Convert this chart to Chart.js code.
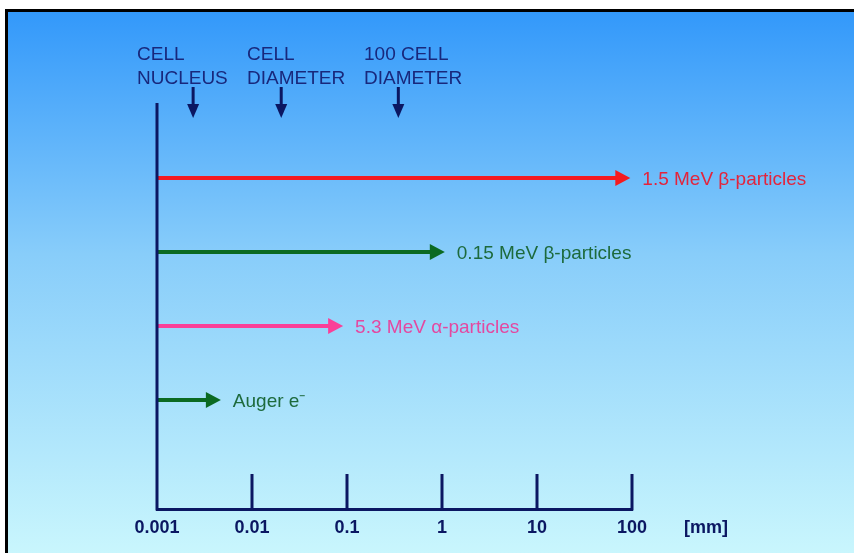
<!DOCTYPE html>
<html><head><meta charset="utf-8">
<script src="https://cdn.jsdelivr.net/npm/chart.js@4"></script>
<style>html,body{margin:0;padding:0;background:#fff;overflow:hidden}</style>
</head><body>
<canvas id="c" width="854" height="553"></canvas>
<script>
const tickValues = [0.001, 0.01, 0.1, 1, 10, 100];
const tickLabels = ['0.001', '0.01', '0.1', '1', '10', '100'];
const unitLabel = '[mm]';
const particleLabels = ['1.5 MeV β-particles', '0.15 MeV β-particles', '5.3 MeV α-particles', 'Auger e⁻'];
const particleRanges = [96, 1.07, 0.091, 0.0047];
const particleRows = [4, 3, 2, 1];
const particleColors = ['#f51a1f', '#0b6a22', '#fa3f98', '#0b6a22'];
const particleTextColors = ['#e3243c', '#1d6a3c', '#e448a0', '#1d6a3c'];
const markerLabels = [['CELL', 'NUCLEUS'], ['CELL', 'DIAMETER'], ['100 CELL', 'DIAMETER']];
const markerValues = [0.0024, 0.0203, 0.347];

const NAVY = '#0b1762';
const TEXTNAVY = '#18287c';
const FONT = '"Liberation Sans", Arial, sans-serif';
const headerTextX = [137, 247, 364];

const datasets = particleLabels.map((lab, i) => ({
  label: lab,
  data: [{x: tickValues[0], y: particleRows[i]}, {x: particleRanges[i], y: particleRows[i]}],
  borderColor: particleColors[i],
  backgroundColor: particleColors[i],
  borderWidth: 4,
  pointRadius: 0,
  borderCapStyle: 'butt',
  clip: false,
  showLine: true
}));

const HEAD_LEN = 15, HEAD_HALF = 8;

const deco = {
  id: 'deco',
  beforeDraw(chart) {
    const ctx = chart.ctx, W = chart.width, H = chart.height;
    ctx.save();
    ctx.fillStyle = '#ffffff';
    ctx.fillRect(0, 0, W, H);
    const g = ctx.createLinearGradient(0, 10, 0, H);
    g.addColorStop(0, '#3298fa');
    g.addColorStop(0.45, '#88cdfa');
    g.addColorStop(1, '#c9f6fd');
    ctx.fillStyle = g;
    ctx.fillRect(6, 10, W - 6, H - 10);
    ctx.fillStyle = '#000';
    ctx.fillRect(5, 9, W - 5, 3);
    ctx.fillRect(5, 9, 3, H - 9);
    ctx.restore();
  },
  beforeDatasetDraw(chart, args) {
    const meta = chart.getDatasetMeta(args.index);
    const tip = meta.data[meta.data.length - 1];
    const ctx = chart.ctx;
    ctx.save();
    ctx.beginPath();
    ctx.rect(0, 0, tip.x - HEAD_LEN + 2, chart.height);
    ctx.clip();
  },
  afterDatasetDraw(chart, args) {
    chart.ctx.restore();
  },
  afterDraw(chart) {
    const ctx = chart.ctx;
    const xs = chart.scales.x, ca = chart.chartArea;
    ctx.save();
    ctx.strokeStyle = NAVY;
    ctx.lineWidth = 3;
    const x0 = xs.getPixelForValue(tickValues[0]);
    ctx.beginPath();
    ctx.moveTo(x0, ca.top);
    ctx.lineTo(x0, ca.bottom + 1.5);
    ctx.stroke();
    tickValues.slice(1).forEach(v => {
      const px = xs.getPixelForValue(v);
      ctx.beginPath();
      ctx.moveTo(px, ca.bottom - 35);
      ctx.lineTo(px, ca.bottom + 1.5);
      ctx.stroke();
    });
    chart.data.datasets.forEach((ds, i) => {
      const meta = chart.getDatasetMeta(i);
      const tip = meta.data[meta.data.length - 1];
      ctx.fillStyle = particleColors[i];
      ctx.beginPath();
      ctx.moveTo(tip.x, tip.y);
      ctx.lineTo(tip.x - HEAD_LEN, tip.y - HEAD_HALF);
      ctx.lineTo(tip.x - HEAD_LEN, tip.y + HEAD_HALF);
      ctx.closePath();
      ctx.fill();
      ctx.fillStyle = particleTextColors[i];
      ctx.font = '19px ' + FONT;
      ctx.textBaseline = 'middle';
      ctx.textAlign = 'left';
      ctx.fillText(ds.label, tip.x + 12, tip.y + 2);
    });
    markerValues.forEach((v, i) => {
      const px = xs.getPixelForValue(v);
      ctx.strokeStyle = NAVY;
      ctx.lineWidth = 3;
      ctx.beginPath();
      ctx.moveTo(px, 87);
      ctx.lineTo(px, 106);
      ctx.stroke();
      ctx.fillStyle = NAVY;
      ctx.beginPath();
      ctx.moveTo(px - 6, 104);
      ctx.lineTo(px + 6, 104);
      ctx.lineTo(px, 118);
      ctx.closePath();
      ctx.fill();
      ctx.fillStyle = TEXTNAVY;
      ctx.font = '19px ' + FONT;
      ctx.textBaseline = 'alphabetic';
      ctx.textAlign = 'left';
      ctx.fillText(markerLabels[i][0], headerTextX[i], 60);
      ctx.fillText(markerLabels[i][1], headerTextX[i], 84);
    });
    ctx.fillStyle = NAVY;
    ctx.font = 'bold 18px ' + FONT;
    ctx.textBaseline = 'middle';
    ctx.textAlign = 'left';
    ctx.fillText(unitLabel, 684, 528);
    ctx.restore();
  }
};

new Chart(document.getElementById('c'), {
  type: 'scatter',
  data: { datasets },
  options: {
    responsive: false,
    animation: false,
    events: [],
    layout: { padding: { left: 157, right: 222, top: 103, bottom: 0 } },
    plugins: { legend: { display: false }, tooltip: { enabled: false } },
    scales: {
      x: {
        type: 'logarithmic',
        min: tickValues[0],
        max: tickValues[tickValues.length - 1],
        position: 'bottom',
        afterBuildTicks: s => { s.ticks = tickValues.map(v => ({ value: v, major: true })); },
        afterFit: s => { s.height = 44; },
        grid: { display: true, drawOnChartArea: false, drawTicks: false, color: 'rgba(0,0,0,0)' },
        border: { display: true, color: NAVY, width: 3 },
        ticks: {
          autoSkip: false, maxRotation: 0, padding: 8, color: NAVY,
          font: { family: FONT, size: 18, weight: 'bold' },
          callback: (v, i) => tickLabels[i]
        }
      },
      y: { type: 'linear', display: false, min: -0.473, max: 5.013 }
    }
  },
  plugins: [deco]
});
</script>
</body></html>
